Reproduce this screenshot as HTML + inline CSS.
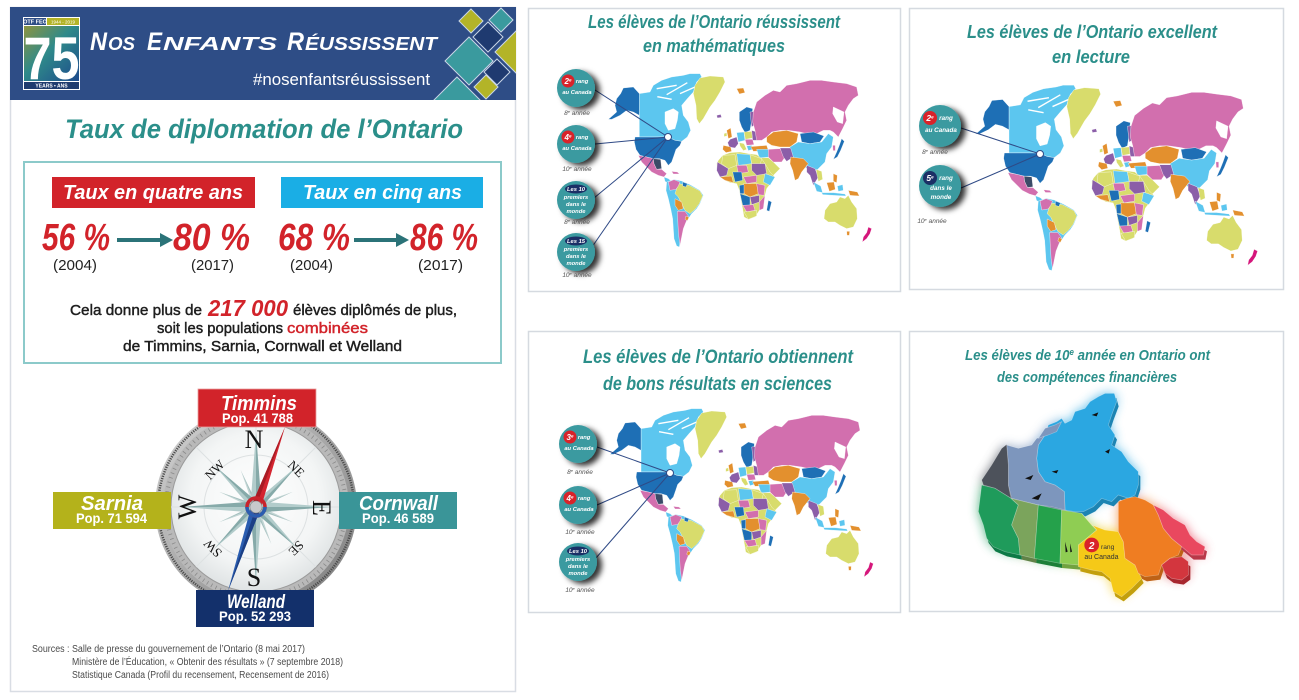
<!DOCTYPE html>
<html><head><meta charset="utf-8"><style>
html,body{margin:0;padding:0;background:#fff;}
svg{display:block;}
text{font-family:"Liberation Sans",sans-serif;}
.scr{font-family:"Liberation Sans",sans-serif;font-weight:bold;font-style:italic;}
.serif{font-family:"Liberation Serif",serif;}
</style></head><body>
<svg width="1299" height="700" viewBox="0 0 1299 700" xmlns="http://www.w3.org/2000/svg">
<defs>
 <clipPath id="hclip"><rect x="10" y="7" width="506" height="93"/></clipPath>
 <linearGradient id="logoG" x1="0" y1="0" x2="1" y2="1">
  <stop offset="0" stop-color="#8d9440"/><stop offset="0.45" stop-color="#2f8a8a"/><stop offset="1" stop-color="#1d4a8c"/>
 </linearGradient>
 <radialGradient id="face" cx="0.5" cy="0.45" r="0.55">
  <stop offset="0" stop-color="#ffffff"/><stop offset="0.7" stop-color="#f3f5f5"/><stop offset="1" stop-color="#dfe3e4"/>
 </radialGradient>
 <linearGradient id="bezel" x1="0" y1="0" x2="1" y2="1">
  <stop offset="0" stop-color="#d6d6d6"/><stop offset="0.5" stop-color="#a8a8a8"/><stop offset="1" stop-color="#7c7c7c"/>
 </linearGradient>
 <filter id="sh" x="-50%" y="-50%" width="220%" height="220%">
  <feDropShadow dx="5" dy="3" stdDeviation="3" flood-color="#000" flood-opacity="0.8"/>
 </filter>
 <filter id="dark"><feComponentTransfer><feFuncR type="linear" slope="0.6"/><feFuncG type="linear" slope="0.6"/><feFuncB type="linear" slope="0.6"/></feComponentTransfer></filter>
 <filter id="glow" x="-30%" y="-30%" width="160%" height="160%"><feGaussianBlur stdDeviation="16"/></filter>

 <g id="world" stroke="#fff" stroke-width="1" stroke-linejoin="round">
  <polygon fill="#5cc6ef" points="118,95 150,90 160,70 185,55 215,45 250,40 270,35 300,35 305,45 290,60 280,90 262,110 245,130 250,160 265,180 272,205 262,225 245,238 225,235 210,228 195,225 118,225"/>
  <polygon fill="#fff" points="195,150 220,140 235,150 232,175 225,200 205,205 195,185"/>
  <path d="M170,80 L230,70 M200,98 L262,62 M172,104 L215,112 M240,95 L285,75" stroke="#fff" stroke-width="4" fill="none"/>
  <polygon fill="#1e6fb5" points="70,78 100,75 118,95 118,160 100,150 80,145 60,160 35,172 25,172 50,150 45,130 50,110 62,95"/>
  <polygon fill="#1e6fb5" points="105,225 195,225 210,228 225,235 245,238 240,250 228,262 222,280 215,300 205,310 195,295 178,290 160,290 140,285 120,280 108,262 103,240"/>
  <polygon fill="#d26fae" points="115,280 140,285 160,290 162,305 170,322 185,322 200,335 192,345 175,340 155,330 140,315 125,300"/>
  <polygon fill="#3b4b68" points="160,290 182,292 185,320 170,322 162,305"/>
  <polygon fill="#5cc6ef" points="192,345 205,350 220,362 212,368 195,358"/>
  <polygon fill="#d26fae" points="215,328 232,330 238,336 220,336"/>
  <polygon fill="#d8dc6c" points="285,70 300,48 330,42 370,45 375,60 360,90 345,115 330,135 310,170 298,185 290,170 288,130 280,95"/>
  <polygon fill="#5cc6ef" points="200,360 222,352 245,357 270,368 300,385 310,400 300,425 290,440 275,455 265,470 255,485 248,505 242,530 238,555 230,552 222,530 220,500 218,470 212,440 205,410 198,385"/>
  <polygon fill="#d8dc6c" points="235,365 268,370 300,387 308,402 298,425 285,442 270,455 255,445 245,425 235,405 225,395 230,380"/>
  <polygon fill="#d26fae" points="205,360 222,353 240,360 235,372 228,382 210,385"/>
  <polygon fill="#e3902e" points="225,410 245,420 250,440 235,445 225,430"/>
  <polygon fill="#d26fae" points="232,448 255,448 265,462 258,480 250,500 244,530 240,550 236,520 234,490"/>
  <polygon fill="#e3902e" points="258,462 267,466 262,476 255,472"/>
  <polygon fill="#1e6fb5" points="248,360 262,365 258,375 248,372"/>
  <polygon fill="#e3902e" points="410,80 430,78 435,92 418,96"/>
  <polygon fill="#8b5ea8" points="350,160 362,157 365,166 352,168"/>
  <polygon fill="#1e6fb5" points="418,150 440,135 458,140 455,175 450,205 435,212 425,195 418,175"/>
  <polygon fill="#8b5ea8" points="450,150 466,148 468,185 455,195"/>
  <polygon fill="#e3902e" points="380,205 392,198 396,225 385,230"/>
  <polygon fill="#d8dc6c" points="372,215 380,212 381,222 372,224"/>
  <polygon fill="#8b5ea8" points="390,232 410,225 415,245 405,258 388,255 383,242"/>
  <polygon fill="#5cc6ef" points="410,212 432,210 435,235 415,240"/>
  <polygon fill="#d8dc6c" points="432,210 455,208 458,228 436,232"/>
  <polygon fill="#8b5ea8" points="455,205 470,210 475,235 458,235"/>
  <polygon fill="#d26fae" points="435,232 458,232 462,248 440,250"/>
  <polygon fill="#d8dc6c" points="418,242 432,245 440,262 430,266 420,252"/>
  <polygon fill="#e3902e" points="370,250 392,255 395,268 378,272 368,262"/>
  <polygon fill="#5cc6ef" points="440,252 455,250 458,262 445,266"/>
  <polygon fill="#e3902e" points="452,254 500,250 505,265 460,268"/>
  <polygon fill="#d26fae" points="460,150 470,120 495,100 520,85 540,90 560,70 590,65 630,55 665,55 700,60 740,65 770,75 775,100 760,110 745,130 735,150 740,175 728,200 715,225 700,210 690,205 670,205 650,215 620,215 600,210 565,205 540,205 515,210 500,225 485,235 470,235 465,205 458,180"/>
  <polygon fill="#fff" points="700,135 732,150 728,185 712,180 698,155"/>
  <polygon fill="#e3902e" points="500,225 520,210 560,205 595,215 590,240 570,255 540,255 515,250 500,240"/>
  <polygon fill="#1e6fb5" points="600,215 640,210 672,222 660,240 630,245 605,240"/>
  <polygon fill="#5cc6ef" points="570,255 595,240 630,245 665,240 685,215 700,225 695,255 680,275 675,300 650,325 620,320 600,300 580,285 565,270"/>
  <polygon fill="#d26fae" points="698,250 706,250 706,266 699,266"/>
  <polygon fill="#1e6fb5" points="725,230 733,238 722,265 712,285 700,292 710,270 718,250"/>
  <polygon fill="#5cc6ef" points="470,262 505,262 508,285 478,288"/>
  <polygon fill="#d26fae" points="505,262 540,260 555,285 545,300 520,300 505,285"/>
  <polygon fill="#8b5ea8" points="540,258 572,258 580,285 560,298 550,285"/>
  <polygon fill="#d8dc6c" points="470,288 505,287 520,300 540,320 520,340 495,335 480,310"/>
  <polygon fill="#e3902e" points="572,285 610,290 625,305 605,330 595,350 585,355 578,325 570,305"/>
  <polygon fill="#8b5ea8" points="620,310 645,320 655,345 640,370 630,340 620,330"/>
  <polygon fill="#d8dc6c" points="648,322 665,328 668,352 655,358"/>
  <polygon fill="#e3902e" points="700,335 712,340 710,362 700,358"/>
  <polygon fill="#5cc6ef" points="640,360 662,372 668,392 650,388"/>
  <polygon fill="#e3902e" points="680,362 702,360 706,382 688,388"/>
  <polygon fill="#5cc6ef" points="665,392 700,392 735,396 738,402 700,400 668,398"/>
  <polygon fill="#5cc6ef" points="712,372 728,368 730,385 715,388"/>
  <polygon fill="#e3902e" points="745,385 772,390 778,402 750,400"/>
  <polygon fill="#d8dc6c" points="675,445 690,425 710,420 720,405 735,410 745,400 755,420 770,440 772,470 760,495 740,500 720,490 705,480 685,480 672,470"/>
  <polygon fill="#e3902e" points="740,508 749,508 748,520 741,520"/>
  <polygon fill="#d5167b" points="805,495 815,500 810,515 800,530 787,540 790,525 800,512"/>
  <polygon fill="#d8dc6c" points="355,295 368,280 390,272 420,270 445,275 470,278 485,290 495,305 510,330 525,345 515,360 500,380 495,400 480,420 478,445 465,465 445,472 432,465 428,440 422,410 418,385 410,365 390,362 375,355 360,345 352,325 350,305"/>
  <polygon fill="#d8dc6c" points="368,280 405,278 410,310 385,320 365,305"/>
  <polygon fill="#5cc6ef" points="410,275 450,278 455,305 415,310"/>
  <polygon fill="#d8dc6c" points="450,278 485,290 480,310 455,305"/>
  <polygon fill="#8b5ea8" points="455,305 495,305 500,335 470,340 455,325"/>
  <polygon fill="#8b5ea8" points="352,300 385,320 380,340 360,345 350,325"/>
  <polygon fill="#d26fae" points="410,310 440,310 445,330 415,335"/>
  <polygon fill="#e3902e" points="360,345 395,342 400,362 375,355"/>
  <polygon fill="#1e6fb5" points="398,330 425,330 428,355 405,360"/>
  <polygon fill="#d26fae" points="430,345 470,340 470,360 440,365"/>
  <polygon fill="#5cc6ef" points="495,335 525,345 510,370 490,360"/>
  <polygon fill="#e3902e" points="430,365 470,365 475,395 450,405 432,395"/>
  <polygon fill="#1e6fb5" points="418,370 432,368 432,395 420,395"/>
  <polygon fill="#1e6fb5" points="420,395 450,405 450,430 428,430"/>
  <polygon fill="#d26fae" points="470,365 495,370 492,400 475,398"/>
  <polygon fill="#8b5ea8" points="450,405 478,400 478,420 455,428"/>
  <polygon fill="#d26fae" points="428,430 460,428 465,445 440,450"/>
  <polygon fill="#d8dc6c" points="432,450 470,445 470,462 445,472"/>
  <polygon fill="#d26fae" points="478,420 495,400 490,440 478,445"/>
  <polygon fill="#1e6fb5" points="505,415 515,420 508,448 500,445"/>
 </g>

 <g id="canada">
  <polygon fill="#2ba7e1" points="400,440 395,400 400,360 420,330 430,300 455,290 470,280 480,295 500,285 510,260 540,250 555,230 580,215 600,205 628,205 635,230 620,270 610,300 630,330 620,360 650,380 670,410 700,440 700,480 690,510 670,520 640,510 620,530 590,520 565,545 535,560 510,560 480,555 478,500 450,480 420,470"/>
  <polygon fill="#7d96bd" points="305,360 340,370 380,360 395,340 420,330 400,360 395,400 400,440 420,470 450,480 478,500 480,555 440,545 400,540 360,530 320,520 310,480 310,420"/>
  <polygon fill="#7d96bd" points="400,340 420,310 450,300 470,290 455,320 430,330"/>
  <polygon fill="#4d525b" points="230,465 260,420 290,370 305,358 310,420 310,480 318,520 270,490 235,480"/>
  <polygon fill="#1f9b5b" points="230,480 270,490 318,520 340,540 320,600 340,640 345,690 300,680 265,665 245,640 235,600 220,560 225,520"/>
  <polygon fill="#7ba45c" points="318,520 400,540 388,700 345,690 340,640 320,600 340,540"/>
  <polygon fill="#25a14b" points="400,540 470,555 465,715 388,700"/>
  <polygon fill="#8fcd53" points="470,555 530,565 560,600 575,615 545,640 520,660 520,720 465,715"/>
  <polygon fill="#f5c918" points="530,565 560,600 600,615 640,620 655,650 660,700 690,720 710,760 680,790 650,815 625,800 615,760 590,740 560,735 520,725 520,660 545,640 575,615"/>
  <polygon fill="#ef7d22" points="640,530 665,520 690,515 720,525 745,540 760,570 775,610 800,640 830,665 820,690 795,700 770,720 760,750 720,755 700,745 690,720 660,700 655,650 640,620"/>
  <polygon fill="#e9485f" points="745,540 775,555 805,580 840,600 855,630 875,650 900,665 895,690 860,690 830,665 800,640 775,610 760,570"/>
  <polygon fill="#d3363e" points="770,720 795,700 830,695 850,710 850,750 830,765 800,760 780,745"/>
 </g>
</defs>

<!-- ============ LEFT PANEL ============ -->
<rect x="10.5" y="7.5" width="505" height="684" fill="#fff" stroke="#d9dde4" stroke-width="1.5"/>
<rect x="10" y="7" width="506" height="93" fill="#2e4d86"/>
<g clip-path="url(#hclip)" stroke="#c9d6e6" stroke-width="1">
 <polygon fill="#3a9a9e" points="469,37 493,61 469,85 445,61"/>
 <polygon fill="#b3b428" points="518,29 541,52 518,75 495,52"/>
 <polygon fill="#3a9a9e" points="457,77 480,100 457,123 434,100"/>
 <polygon fill="#1f3a70" points="488,22 503,37 488,52 473,37"/>
 <polygon fill="#b3b428" points="471,9 483,21 471,33 459,21"/>
 <polygon fill="#3a9a9e" points="501,8 513,20 501,32 489,20"/>
 <polygon fill="#1f3a70" points="497,59 510,72 497,85 484,72"/>
 <polygon fill="#b3b428" points="486,75 498,87 486,99 474,87"/>
</g>
<rect x="23" y="17" width="57" height="73" fill="#fff"/>
<rect x="24" y="18" width="22" height="7" fill="#2e4d86"/>
<text x="35" y="23.5" font-size="5.5" fill="#fff" text-anchor="middle" font-weight="bold">OTF FEO</text>
<rect x="47" y="18" width="32" height="7" fill="#b3b428"/>
<text x="63" y="23.5" font-size="4.5" fill="#fff" text-anchor="middle">1944 - 2019</text>
<rect x="24" y="26" width="55" height="55" fill="url(#logoG)"/>
<text x="51.5" y="79" font-size="60" font-weight="bold" fill="#fff" text-anchor="middle" textLength="56" lengthAdjust="spacingAndGlyphs">75</text>
<rect x="24" y="82" width="55" height="7" fill="#1f3b6e"/>
<text x="51.5" y="87.5" font-size="5" fill="#fff" text-anchor="middle" font-weight="bold">YEARS • ANS</text>
<g class="scr" fill="#fff">
 <text class="scr" x="90" y="50" font-size="25" textLength="17" lengthAdjust="spacingAndGlyphs">N</text>
 <text class="scr" x="108" y="50" font-size="18" textLength="27" lengthAdjust="spacingAndGlyphs">OS</text>
 <text class="scr" x="147" y="50" font-size="25" textLength="15" lengthAdjust="spacingAndGlyphs">E</text>
 <text class="scr" x="163" y="50" font-size="18" textLength="114" lengthAdjust="spacingAndGlyphs">NFANTS</text>
 <text class="scr" x="287" y="50" font-size="25" textLength="17" lengthAdjust="spacingAndGlyphs">R</text>
 <text class="scr" x="305" y="50" font-size="18" textLength="132" lengthAdjust="spacingAndGlyphs">ÉUSSISSENT</text>
</g>
<text x="253" y="85" font-size="17" fill="#fff" textLength="177" lengthAdjust="spacingAndGlyphs">#nosenfantsréussissent</text>

<text class="scr" x="65" y="138" font-size="27" fill="#2b8f8a" textLength="398" lengthAdjust="spacingAndGlyphs">Taux de diplomation de l’Ontario</text>
<rect x="24" y="162" width="477" height="201" fill="none" stroke="#8ccaca" stroke-width="2"/>
<rect x="52" y="177" width="203" height="31" fill="#d2232a"/>
<text class="scr" x="63" y="199" font-size="20" fill="#fff" textLength="180" lengthAdjust="spacingAndGlyphs">Taux en quatre ans</text>
<rect x="281" y="177" width="202" height="31" fill="#1aaee5"/>
<text class="scr" x="303" y="199" font-size="20" fill="#fff" textLength="159" lengthAdjust="spacingAndGlyphs">Taux en cinq ans</text>

<g fill="#d2232a" font-size="38">
 <text class="scr" x="42" y="250" textLength="68" lengthAdjust="spacingAndGlyphs">56 %</text>
 <text class="scr" x="173" y="250" textLength="77" lengthAdjust="spacingAndGlyphs">80 %</text>
 <text class="scr" x="278" y="250" textLength="72" lengthAdjust="spacingAndGlyphs">68 %</text>
 <text class="scr" x="410" y="250" textLength="68" lengthAdjust="spacingAndGlyphs">86 %</text>
</g>
<g stroke="#2b7378" stroke-width="4" fill="#2b7378">
 <line x1="117" y1="240" x2="162" y2="240"/>
 <polygon points="160,233 173,240 160,247" stroke="none"/>
 <line x1="354" y1="240" x2="398" y2="240"/>
 <polygon points="396,233 409,240 396,247" stroke="none"/>
</g>
<g font-size="15" fill="#222">
 <text x="53" y="270" textLength="44" lengthAdjust="spacingAndGlyphs">(2004)</text>
 <text x="191" y="270" textLength="43" lengthAdjust="spacingAndGlyphs">(2017)</text>
 <text x="290" y="270" textLength="43" lengthAdjust="spacingAndGlyphs">(2004)</text>
 <text x="418" y="270" textLength="45" lengthAdjust="spacingAndGlyphs">(2017)</text>
</g>
<g font-size="15" fill="#1e1e1e" stroke="#1e1e1e" stroke-width="0.45">
 <text x="70" y="315" textLength="132" lengthAdjust="spacingAndGlyphs">Cela donne plus de</text>
 <text x="293" y="315" textLength="164" lengthAdjust="spacingAndGlyphs">élèves diplômés de plus,</text>
 <text x="157" y="333" textLength="126" lengthAdjust="spacingAndGlyphs">soit les populations</text>
 <text x="123" y="351" textLength="279" lengthAdjust="spacingAndGlyphs">de Timmins, Sarnia, Cornwall et Welland</text>
</g>
<text class="scr" x="208" y="316" font-size="23" fill="#d2232a" textLength="80" lengthAdjust="spacingAndGlyphs">217 000</text>
<text x="287" y="333" font-size="15" fill="#d2232a" stroke="#d2232a" stroke-width="0.45" textLength="81" lengthAdjust="spacingAndGlyphs">combinées</text>

<!-- compass -->
<g>
 <circle cx="256" cy="507" r="101" fill="url(#bezel)"/>
 <circle cx="256" cy="507" r="98" fill="none" stroke="#4a4a4a" stroke-width="2.5" stroke-dasharray="1.2 1.2"/>
 <circle cx="256" cy="507" r="93" fill="#b9b9b9"/>
 <circle cx="256" cy="507" r="90" fill="none" stroke="#8a8a8a" stroke-width="4" stroke-dasharray="0.8 4"/>
 <circle cx="256" cy="507" r="85" fill="url(#face)" stroke="#9a9a9a" stroke-width="1"/>
 <g stroke="#dde1e2" stroke-width="1">
  <circle cx="256" cy="507" r="52" fill="none"/>
  <line x1="256" y1="422" x2="256" y2="592"/><line x1="171" y1="507" x2="341" y2="507"/>
  <line x1="196" y1="447" x2="316" y2="567"/><line x1="316" y1="447" x2="196" y2="567"/>
 </g>
 <g transform="translate(256,507)">
  <g id="sp">
   <polygon points="0,-40 -2,-6 0,0" fill="#c3d6d5"/><polygon points="0,-40 2,-6 0,0" fill="#a5c0bf"/>
  </g>
  <use href="#sp" transform="rotate(22.5)"/><use href="#sp" transform="rotate(67.5)"/><use href="#sp" transform="rotate(112.5)"/><use href="#sp" transform="rotate(157.5)"/>
  <use href="#sp" transform="rotate(202.5)"/><use href="#sp" transform="rotate(247.5)"/><use href="#sp" transform="rotate(292.5)"/><use href="#sp" transform="rotate(337.5)"/>
  <g id="dp">
   <polygon points="0,-58 -4,-8 0,0" fill="#b2cccb"/><polygon points="0,-58 4,-8 0,0" fill="#86aaa9"/>
  </g>
  <use href="#dp" transform="rotate(45)"/><use href="#dp" transform="rotate(135)"/><use href="#dp" transform="rotate(225)"/><use href="#dp" transform="rotate(315)"/>
  <g id="cp">
   <polygon points="0,-75 -5,-9 0,0" fill="#b2cccb"/><polygon points="0,-75 5,-9 0,0" fill="#86aaa9"/>
  </g>
  <use href="#cp" transform="rotate(90)"/><use href="#cp" transform="rotate(180)"/><use href="#cp" transform="rotate(270)"/>
 </g>
 <g fill="#111" text-anchor="middle">
  <text class="serif" x="254" y="448" font-size="26">N</text>
  <text class="serif" x="254" y="586" font-size="26">S</text>
  <text class="serif" x="322" y="517" font-size="26" transform="rotate(90,322,508)">E</text>
  <text class="serif" x="187" y="516" font-size="26" transform="rotate(-90,187,507)">W</text>
  <text class="serif" x="215" y="474" font-size="13" transform="rotate(-45,215,470)">NW</text>
  <text class="serif" x="296" y="473" font-size="13" transform="rotate(45,296,469)">NE</text>
  <text class="serif" x="213" y="552" font-size="13" transform="rotate(-135,213,548)">SW</text>
  <text class="serif" x="296" y="552" font-size="13" transform="rotate(135,296,548)">SE</text>
 </g>
 <polygon points="285,427 260.5,509 251.5,505.6" fill="#d42530"/>
 <polygon points="285,427 256,507 251.5,505.6" fill="#a81b24"/>
 <polygon points="228,591 260.5,509 251.5,505.6" fill="#2a5db0"/>
 <polygon points="228,591 256,507 260.5,509" fill="#1b3f85"/>
 <circle cx="256" cy="507" r="9" fill="none" stroke="#c8232c" stroke-width="3.5"/>
 <path d="M247,507 A9,9 0 0 0 265,507" fill="none" stroke="#2a5db0" stroke-width="3.5"/>
 <circle cx="256" cy="507" r="6" fill="#c7c9cb" stroke="#888" stroke-width="0.6"/>
</g>
<rect x="198" y="389" width="118" height="38" fill="#d2232a" stroke="#e9a0a0" stroke-width="0.8"/>
<text class="scr" x="221" y="410" font-size="20" fill="#fff" textLength="76" lengthAdjust="spacingAndGlyphs">Timmins</text>
<text x="222" y="423" font-size="14" font-weight="bold" fill="#fff" textLength="71" lengthAdjust="spacingAndGlyphs">Pop. 41 788</text>
<rect x="53" y="492" width="118" height="37" fill="#b4b21b"/>
<text class="scr" x="81" y="510" font-size="20" fill="#fff" textLength="62" lengthAdjust="spacingAndGlyphs">Sarnia</text>
<text x="76" y="523" font-size="14" font-weight="bold" fill="#fff" textLength="71" lengthAdjust="spacingAndGlyphs">Pop. 71 594</text>
<rect x="339" y="492" width="118" height="37" fill="#3a9598"/>
<text class="scr" x="359" y="510" font-size="20" fill="#fff" textLength="79" lengthAdjust="spacingAndGlyphs">Cornwall</text>
<text x="362" y="523" font-size="14" font-weight="bold" fill="#fff" textLength="72" lengthAdjust="spacingAndGlyphs">Pop. 46 589</text>
<rect x="196" y="590" width="118" height="37" fill="#13306b"/>
<text class="scr" x="227" y="608" font-size="19" fill="#fff" textLength="58" lengthAdjust="spacingAndGlyphs">Welland</text>
<text x="219" y="621" font-size="14" font-weight="bold" fill="#fff" textLength="72" lengthAdjust="spacingAndGlyphs">Pop. 52 293</text>
<g font-size="10" fill="#4a4a4a">
 <text x="32" y="652" textLength="273" lengthAdjust="spacingAndGlyphs">Sources : Salle de presse du gouvernement de l’Ontario (8 mai 2017)</text>
 <text x="72" y="665" textLength="271" lengthAdjust="spacingAndGlyphs">Ministère de l’Éducation, « Obtenir des résultats » (7 septembre 2018)</text>
 <text x="72" y="678" textLength="257" lengthAdjust="spacingAndGlyphs">Statistique Canada (Profil du recensement, Recensement de 2016)</text>
</g>

<!-- ============ PANEL: MATH ============ -->
<rect x="528.5" y="8.5" width="372" height="283" fill="#fff" stroke="#d5dae0" stroke-width="1.5"/>
<text class="scr" x="588" y="28" font-size="18" fill="#2b8f8a" textLength="252" lengthAdjust="spacingAndGlyphs">Les élèves de l’Ontario réussissent</text>
<text class="scr" x="643" y="52" font-size="18" fill="#2b8f8a" textLength="142" lengthAdjust="spacingAndGlyphs">en mathématiques</text>
<use href="#world" transform="translate(600,62) scale(0.33333)"/>
<g stroke="#2f4a86" stroke-width="1">
 <line x1="595" y1="90" x2="668" y2="137"/><line x1="595" y1="144" x2="668" y2="137"/>
 <line x1="594" y1="198" x2="668" y2="137"/><line x1="592" y1="247" x2="668" y2="137"/>
</g>
<circle cx="668" cy="137" r="3.5" fill="#fff" stroke="#2f4a86" stroke-width="1"/>

<!-- ============ PANEL: LECTURE ============ -->
<rect x="909.5" y="8.5" width="374" height="281" fill="#fff" stroke="#d5dae0" stroke-width="1.5"/>
<text class="scr" x="967" y="38" font-size="18" fill="#2b8f8a" textLength="250" lengthAdjust="spacingAndGlyphs">Les élèves de l’Ontario excellent</text>
<text class="scr" x="1052" y="63" font-size="18" fill="#2b8f8a" textLength="78" lengthAdjust="spacingAndGlyphs">en lecture</text>
<use href="#world" transform="translate(966.9,72.7) scale(0.3567)"/>
<g stroke="#2f4a86" stroke-width="1">
 <line x1="961" y1="128" x2="1040" y2="154"/><line x1="961" y1="188" x2="1040" y2="154"/>
</g>
<circle cx="1040" cy="154" r="3.5" fill="#fff" stroke="#2f4a86" stroke-width="1"/>

<!-- ============ PANEL: SCIENCES ============ -->
<rect x="528.5" y="331.5" width="372" height="281" fill="#fff" stroke="#d5dae0" stroke-width="1.5"/>
<text class="scr" x="583" y="363" font-size="19" fill="#2b8f8a" textLength="270" lengthAdjust="spacingAndGlyphs">Les élèves de l’Ontario obtiennent</text>
<text class="scr" x="603" y="390" font-size="19" fill="#2b8f8a" textLength="229" lengthAdjust="spacingAndGlyphs">de bons résultats en sciences</text>
<use href="#world" transform="translate(601.7,397) scale(0.33333)"/>
<g stroke="#2f4a86" stroke-width="1">
 <line x1="597" y1="447" x2="670" y2="473"/><line x1="597" y1="505" x2="670" y2="473"/><line x1="596" y1="558" x2="670" y2="473"/>
</g>
<circle cx="670" cy="473" r="3.5" fill="#fff" stroke="#2f4a86" stroke-width="1"/>

<!-- ============ CALLOUT CIRCLES ============ -->
<g fill="#3a9aa0" filter="url(#sh)">
 <circle cx="576" cy="88" r="19"/><circle cx="576" cy="144" r="19"/><circle cx="576" cy="200" r="19"/><circle cx="576" cy="252" r="19"/>
 <circle cx="940" cy="126" r="21"/><circle cx="940" cy="186" r="21"/>
 <circle cx="578" cy="444" r="19"/><circle cx="578" cy="505" r="19"/><circle cx="578" cy="562" r="19"/>
</g>
<g font-style="italic" font-weight="bold" fill="#fff" font-size="5.8" text-anchor="middle">
 <circle cx="568" cy="81" r="6.5" fill="#d9232a"/><text x="568" y="84" font-size="8">2<tspan font-size="4.5" dy="-2.5">e</tspan></text>
 <text x="582" y="83">rang</text><text x="577" y="94">au Canada</text>
 <circle cx="568" cy="137" r="6.5" fill="#d9232a"/><text x="568" y="140" font-size="8">4<tspan font-size="4.5" dy="-2.5">e</tspan></text>
 <text x="582" y="139">rang</text><text x="577" y="150">au Canada</text>
 <ellipse cx="576" cy="189" rx="11" ry="4.5" fill="#1b2f66"/><text x="576" y="191">Les 10</text>
 <text x="576" y="199">premiers</text><text x="576" y="206">dans le</text><text x="576" y="213">monde</text>
 <ellipse cx="576" cy="241" rx="11" ry="4.5" fill="#1b2f66"/><text x="576" y="243">Les 15</text>
 <text x="576" y="251">premiers</text><text x="576" y="258">dans le</text><text x="576" y="265">monde</text>
 <circle cx="930" cy="118" r="7" fill="#d9232a"/><text x="930" y="121" font-size="8.5">2<tspan font-size="4.5" dy="-2.5">e</tspan></text>
 <text x="946" y="120" font-size="6.3">rang</text><text x="941" y="132" font-size="6.3">au Canada</text>
 <circle cx="930" cy="178" r="7" fill="#1b2f66"/><text x="930" y="181" font-size="8.5">5<tspan font-size="4.5" dy="-2.5">e</tspan></text>
 <text x="946" y="180" font-size="6.3">rang</text><text x="941" y="190" font-size="6.3">dans le</text><text x="941" y="199" font-size="6.3">monde</text>
 <circle cx="570" cy="437" r="6.5" fill="#d9232a"/><text x="570" y="440" font-size="8">3<tspan font-size="4.5" dy="-2.5">e</tspan></text>
 <text x="584" y="439">rang</text><text x="579" y="450">au Canada</text>
 <circle cx="570" cy="498" r="6.5" fill="#d9232a"/><text x="570" y="501" font-size="8">4<tspan font-size="4.5" dy="-2.5">e</tspan></text>
 <text x="584" y="500">rang</text><text x="579" y="511">au Canada</text>
 <ellipse cx="578" cy="551" rx="11" ry="4.5" fill="#1b2f66"/><text x="578" y="553">Les 10</text>
 <text x="578" y="561">premiers</text><text x="578" y="568">dans le</text><text x="578" y="575">monde</text>
</g>
<g font-size="6.5" fill="#555" text-anchor="middle" font-style="italic">
 <text x="577" y="115">8<tspan font-size="4" dy="-2">e</tspan><tspan dy="2"> année</tspan></text>
 <text x="577" y="171">10<tspan font-size="4" dy="-2">e</tspan><tspan dy="2"> année</tspan></text>
 <text x="577" y="224">8<tspan font-size="4" dy="-2">e</tspan><tspan dy="2"> année</tspan></text>
 <text x="577" y="277">10<tspan font-size="4" dy="-2">e</tspan><tspan dy="2"> année</tspan></text>
 <text x="935" y="154">8<tspan font-size="4" dy="-2">e</tspan><tspan dy="2"> année</tspan></text>
 <text x="932" y="223">10<tspan font-size="4" dy="-2">e</tspan><tspan dy="2"> année</tspan></text>
 <text x="580" y="474">8<tspan font-size="4" dy="-2">e</tspan><tspan dy="2"> année</tspan></text>
 <text x="580" y="534">10<tspan font-size="4" dy="-2">e</tspan><tspan dy="2"> année</tspan></text>
 <text x="580" y="592">10<tspan font-size="4" dy="-2">e</tspan><tspan dy="2"> année</tspan></text>
</g>

<!-- ============ PANEL: FINANCES ============ -->
<rect x="909.5" y="331.5" width="374" height="280" fill="#fff" stroke="#d5dae0" stroke-width="1.5"/>
<text class="scr" x="965" y="360" font-size="15" fill="#2b8f8a" textLength="245" lengthAdjust="spacingAndGlyphs">Les élèves de 10<tspan font-size="9" dy="-5">e</tspan><tspan dy="5"> année en Ontario ont</tspan></text>
<text class="scr" x="997" y="382" font-size="15" fill="#2b8f8a" textLength="180" lengthAdjust="spacingAndGlyphs">des compétences financières</text>
<g transform="translate(905,325) scale(0.33333)">
 <use href="#canada" filter="url(#glow)" opacity="0.75"/>
 <use href="#canada" filter="url(#dark)" transform="translate(6,14)"/>
 <use href="#canada" stroke="#ffffff" stroke-opacity="0.35" stroke-width="2"/>
 <g fill="#111">
  <path d="M360,460 l25,-10 l-8,15 z"/><path d="M380,520 l30,-15 l-10,20 z"/><path d="M440,440 l20,-5 l-5,10 z"/>
  <path d="M480,650 l8,30 l-6,2 z"/><path d="M495,655 l6,25 l-5,2 z"/><path d="M560,270 l20,-8 l-5,12 z"/><path d="M600,380 l15,-8 l-4,14 z"/>
 </g>
 <circle cx="560" cy="660" r="22" fill="#d9232a"/>
 <text x="560" y="672" font-size="30" font-weight="bold" font-style="italic" fill="#fff" text-anchor="middle">2</text>
 <text x="588" y="672" font-size="20" fill="#333">rang</text>
 <text x="538" y="702" font-size="21" fill="#333">au Canada</text>
</g>
</svg>
</body></html>
